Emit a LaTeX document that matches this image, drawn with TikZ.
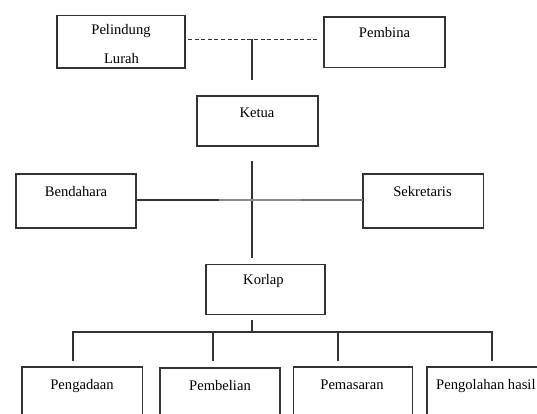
\documentclass[tikz,border=0pt]{standalone}
\usepackage{fontspec}
\setmainfont{Liberation Serif}
\begin{document}
\begin{tikzpicture}[x=1pt,y=-1pt,
  box/.style={draw=black!80, line width=1.2pt, inner sep=0pt},
  lbl/.style={font=\fontsize{14.6}{14.6}\selectfont, inner sep=0pt, anchor=base},
  link/.style={draw=black!80, line width=1.2pt}]
\useasboundingbox (0,0) rectangle (537,414);
\clip (0,0) rectangle (537,414);
% boxes
\draw[box] (57,15.5) rectangle (185,68);
\node[lbl] (pel) at (121,35) {Pelindung};
\node[lbl] (lur) at (121.5,64) {Lurah};
\draw[box] (324,17) rectangle (445,67.5);
\node[lbl] (pemb) at (384.5,37.5) {Pembina};
\draw[box] (197,96) rectangle (318,146);
\node[lbl] (ket) at (257,118) {Ketua};
\draw[box] (16,174) rectangle (136,228);
\node[lbl] (ben) at (76,196) {Bendahara};
\draw[box] (363,174) rectangle (483.5,228);
\node[lbl] (sek) at (422.5,196) {Sekretaris};
\draw[box] (206,264.5) rectangle (325,314.5);
\node[lbl] (kor) at (263.5,284) {Korlap};
\draw[box] (22,367) rectangle (142.5,430);
\node[lbl] (p1) at (82,389) {Pengadaan};
\draw[box] (160,368) rectangle (280,430);
\node[lbl] (p2) at (220,390.5) {Pembelian};
\draw[box] (293.5,367) rectangle (412.5,430);
\node[lbl] (p3) at (352,389) {Pemasaran};
\draw[box] (427,367) rectangle (560,430);
\node[lbl,anchor=base west] (p4) at (436,389) {Pengolahan hasil};
% connectors
\coordinate (dL) at (188,39.5);
\coordinate (dR) at (317,39.5);
\coordinate (dM) at (252,39.5);
\coordinate (dB) at (252,80);
\draw[link, dash pattern=on 4pt off 2.6pt] (dL) -- (dR);
\draw[link] (dM) -- (dB);
\coordinate (kT) at (252,161);
\coordinate (kB) at (252,257.5);
\draw[link] (kT) -- (kB);
\coordinate (bR) at (136,200);
\coordinate (hM) at (219,200);
\coordinate (hN) at (301,200);
\coordinate (sL) at (363,200);
\draw[link] (bR) -- (hM);
\draw[link, draw=black!45] (hM) -- (hN);
\draw[link, draw=black!55, line width=1.5pt] (hN) -- (sL);
\coordinate (c0) at (252,320);
\coordinate (c1) at (252,332);
\draw[link] (c0) -- (c1);
\draw[link] (73,361) |- (492,332) -- (492,361);
\draw[link] (213,332) -- (213,361);
\draw[link] (338,332) -- (338,361);
\end{tikzpicture}
\end{document}
